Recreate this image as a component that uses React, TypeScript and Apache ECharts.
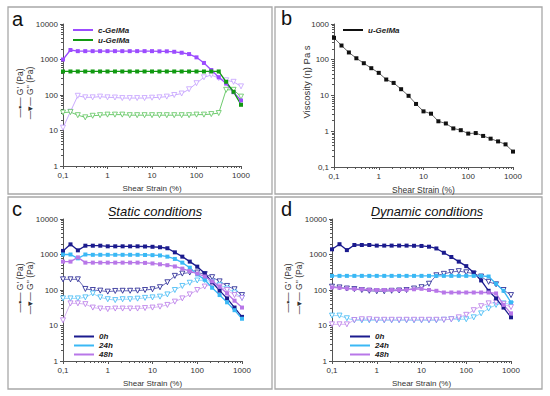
import React, { useEffect, useRef } from 'react';
import * as echarts from 'echarts';

// Shear strain (%) sampled 6 points per decade
const strain = [0.1, 0.147, 0.215, 0.316, 0.464, 0.681, 1, 1.47, 2.15, 3.16, 4.64, 6.81, 10, 14.7, 21.5, 31.6, 46.4, 68.1, 100, 147, 215, 316, 464, 681, 1000];

// Panel a
const aCGelG1 = [1000, 1850, 1720, 1720, 1720, 1720, 1720, 1720, 1720, 1720, 1720, 1720, 1720, 1700, 1700, 1650, 1550, 1420, 1150, 800, 505, 315, 210, 120, 70];
const aCGelG2 = [12, 34, 95, 86, 86, 90, 86, 85, 82, 82, 82, 82, 84, 86, 90, 100, 110, 145, 215, 315, 365, 300, 260, 235, 175];
const aUGelG1 = [460, 460, 460, 460, 460, 460, 460, 460, 460, 460, 460, 460, 460, 460, 460, 460, 460, 460, 460, 460, 460, 460, 236, 123, 53];
const aUGelG2 = [32, 33, 27, 23.5, 26, 27, 28, 28, 28, 27, 27, 27, 27, 27, 27, 27, 27, 27, 28, 28, 29, 31, 140, 140, 90];

// Panel b
const bViscosity = [410, 250, 160, 110, 80, 58, 43, 28, 22.5, 15, 9.8, 5.8, 3.6, 3.1, 1.9, 1.65, 1.2, 1.07, 0.86, 0.89, 0.74, 0.62, 0.52, 0.43, 0.27];

// Panel c (static)
const c0G1 = [1260, 1930, 1310, 1770, 1770, 1770, 1700, 1700, 1700, 1700, 1700, 1680, 1650, 1600, 1500, 1150, 870, 630, 455, 295, 165, 96, 58, 32, 17.5];
const c24G1 = [1000, 1000, 780, 1000, 980, 980, 980, 980, 980, 980, 980, 970, 960, 940, 870, 750, 590, 425, 275, 195, 116, 72, 45, 27, 15.5];
const c48G1 = [630, 630, 830, 590, 590, 590, 590, 590, 590, 590, 590, 580, 560, 530, 500, 460, 400, 340, 290, 240, 175, 124, 80, 50, 32];
const c0G2 = [200, 200, 200, 107, 100, 96, 90, 94, 95, 95, 96, 100, 105, 120, 165, 250, 290, 310, 310, 280, 230, 175, 130, 105, 72];
const c24G2 = [58, 58, 58, 62, 80, 62, 55, 52, 55, 55, 57, 60, 62, 65, 75, 100, 130, 160, 185, 190, 170, 140, 110, 85, 60];
const c48G2 = [14, 42, 42, 40, 32, 30, 29, 30, 30, 30, 30, 31, 32, 34, 38, 47, 58, 75, 100, 125, 145, 125, 100, 72, 60];

// Panel d (dynamic)
const d0G1 = [1400, 1950, 1330, 1850, 1850, 1850, 1780, 1780, 1780, 1780, 1780, 1760, 1740, 1660, 1480, 1120, 850, 630, 470, 310, 186, 95, 58, 32, 17];
const d24G1 = [250, 250, 250, 250, 250, 250, 250, 250, 250, 250, 250, 250, 250, 250, 250, 250, 250, 250, 250, 250, 250, 240, 150, 95, 45];
const d48G1 = [118, 115, 110, 107, 105, 102, 100, 100, 100, 100, 102, 105, 108, 100, 95, 85, 85, 85, 85, 85, 85, 85, 80, 38, 22];
const d0G2 = [124, 118, 110, 106, 100, 95, 92, 92, 95, 97, 100, 110, 120, 150, 260, 285, 320, 340, 315, 290, 240, 170, 145, 100, 72];
const d24G2 = [19, 19, 16, 14, 14, 14, 14, 14, 14, 14, 14, 14, 14, 14, 14, 14.5, 15, 15, 15, 17, 22, 30, 38, 42, 40];
const d48G2 = [10.8, 10.8, 10.8, 14.3, 15, 15, 14.5, 14.5, 14.5, 14.5, 14.5, 14.5, 14.5, 14.5, 14.5, 14.5, 15, 17, 20, 27, 35, 42, 45, 40, 33];

// Tick labels
const decadeTicks = [0.1, 1, 10, 100, 1000, 10000];
const decadeLabels = ['0,1', '1', '10', '100', '1000', '10000'];

const FONT = 'Liberation Sans, Arial, Helvetica, sans-serif';
const PURPLE = '#9c4cff';
const PURPLE_L = '#c4a0ff';
const GREEN = '#119a11';
const GREEN_L = '#5cc45c';
const NAVY = '#1b1b8e';
const SKY = '#3ab8f5';
const ORCHID = '#b877e8';
const AXIS = '#555';

const fmt = (v: number) => {
  const i = decadeTicks.findIndex((t) => Math.abs(Math.log10(t) - Math.log10(v)) < 1e-6);
  return i >= 0 ? decadeLabels[i] : '';
};

const minorLogs = (from: number, to: number) => {
  const out: number[] = [];
  for (let d = from; d < to; d++) for (let m = 2; m <= 9; m++) out.push(d + Math.log10(m));
  return out;
};

const pts = (ys: number[]) => strain.map((x, i) => [x, ys[i]]);

function filled(name: string, ys: number[], idx: number, color: string, lineColor?: string) {
  return {
    name, type: 'line', xAxisIndex: idx, yAxisIndex: idx, data: pts(ys),
    symbol: 'rect', symbolSize: 4, z: 4,
    lineStyle: { color: lineColor || color, width: 1.3 },
    itemStyle: { color },
    emphasis: { disabled: true },
  };
}
function open(name: string, ys: number[], idx: number, color: string, lineColor?: string) {
  return {
    name, type: 'line', xAxisIndex: idx, yAxisIndex: idx, data: pts(ys),
    symbol: 'triangle', symbolRotate: 180, symbolSize: 5, z: 3,
    lineStyle: { color: lineColor || color, width: 0.9 },
    itemStyle: { color: '#fff', borderColor: color, borderWidth: 0.8 },
    emphasis: { disabled: true },
  };
}

function xMain(idx: number) {
  return {
    type: 'log', logBase: 10, min: 0.1, max: 1000, gridIndex: idx, position: 'bottom',
    axisLine: { show: true, onZero: false, lineStyle: { color: AXIS, width: 1 } },
    axisTick: { show: true, length: 3, lineStyle: { color: AXIS } },
    axisLabel: { fontSize: 8, color: '#333', margin: 5, formatter: fmt, fontFamily: FONT },
    splitLine: { show: false },
    name: 'Shear Strain (%)', nameLocation: 'middle', nameGap: 18,
    nameTextStyle: { fontSize: idx === 1 ? 8.5 : 8, color: '#333', fontFamily: FONT },
  };
}
function yMain(idx: number, min: number, max: number) {
  return {
    type: 'log', logBase: 10, min, max, gridIndex: idx, position: 'left',
    axisLine: { show: true, onZero: false, lineStyle: { color: AXIS, width: 1 } },
    axisTick: { show: true, length: 3, lineStyle: { color: AXIS } },
    axisLabel: { fontSize: 8, color: '#333', margin: 5, formatter: fmt, fontFamily: FONT },
    splitLine: { show: false },
  };
}
function xMinor(idx: number) {
  return {
    type: 'value', min: -1, max: 3, gridIndex: idx, position: 'bottom',
    axisLine: { show: false, onZero: false }, axisLabel: { show: false }, splitLine: { show: false },
    axisTick: { show: true, length: 2, lineStyle: { color: AXIS }, customValues: minorLogs(-1, 3) },
  };
}
function yMinor(idx: number, from: number, to: number) {
  return {
    type: 'value', min: from, max: to, gridIndex: idx, position: 'left',
    axisLine: { show: false, onZero: false }, axisLabel: { show: false }, splitLine: { show: false },
    axisTick: { show: true, length: 2, lineStyle: { color: AXIS }, customValues: minorLogs(from, to) },
  };
}

function legend(left: number, top: number, items: { name: string; color: string }[], lh: number) {
  return {
    orient: 'vertical', left, top, icon: 'rect', itemWidth: 20, itemHeight: 2, itemGap: 0,
    selectedMode: false,
    data: items.map((it) => ({ name: it.name, itemStyle: { color: it.color } })),
    textStyle: { fontSize: 8, fontStyle: 'italic', fontWeight: 'bold', color: '#222', fontFamily: FONT, lineHeight: lh },
  };
}

const panelBox = (x: number, y: number, w: number, h: number) => ({
  type: 'rect', silent: true, z: -1,
  shape: { x, y, width: w, height: h },
  style: { fill: 'none', stroke: '#a8a8a8', lineWidth: 1.3 },
});
const letter = (t: string, x: number, y: number) => ({
  type: 'text', x, y,
  style: { text: t, fontSize: 20, fontFamily: FONT, fill: '#111', align: 'left', verticalAlign: 'middle' },
});
const vtext = (t: string, x: number, y: number, size: number) => ({
  type: 'text', x, y, rotation: Math.PI / 2,
  style: { text: t, fontSize: size, fontFamily: FONT, fill: '#333', align: 'center', verticalAlign: 'middle' },
});

export default function App() {
  const ref = useRef<HTMLDivElement>(null);
  useEffect(() => {
    if (!ref.current) return;
    const chart = echarts.init(ref.current, undefined, { renderer: 'svg' });
    chart.setOption({
      animation: false,
      backgroundColor: '#fff',
      textStyle: { fontFamily: FONT },
      grid: [
        { left: 63, top: 24, width: 178, height: 142 },
        { left: 334, top: 24, width: 179, height: 143 },
        { left: 63, top: 219, width: 179, height: 142 },
        { left: 332, top: 219, width: 179, height: 142 },
      ],
      xAxis: [xMain(0), xMain(1), xMain(2), xMain(3), xMinor(0), xMinor(1), xMinor(2), xMinor(3)],
      yAxis: [
        yMain(0, 1, 10000), yMain(1, 0.1, 1000), yMain(2, 1, 10000), yMain(3, 1, 10000),
        yMinor(0, 0, 4), yMinor(1, -1, 3), yMinor(2, 0, 4), yMinor(3, 0, 4),
      ],
      legend: [
        legend(68, 20, [{ name: 'c-GelMa', color: PURPLE }, { name: 'u-GelMa', color: GREEN }], 10),
        legend(338, 20, [{ name: 'u-GelMa ', color: '#111' }], 10),
        legend(69, 327, [{ name: '0h', color: NAVY }, { name: '24h', color: SKY }, { name: '48h', color: ORCHID }], 9),
        legend(345, 327, [{ name: '0h', color: NAVY }, { name: '24h', color: SKY }, { name: '48h', color: ORCHID }], 9),
      ],
      series: [
        open("c-GelMa G''", aCGelG2, 0, PURPLE_L, PURPLE_L),
        open("u-GelMa G''", aUGelG2, 0, GREEN_L, GREEN_L),
        filled('c-GelMa', aCGelG1, 0, PURPLE),
        filled('u-GelMa', aUGelG1, 0, GREEN),
        { ...filled('u-GelMa ', bViscosity, 1, '#111', '#555'), lineStyle: { color: '#666', width: 1 } },
        open("0h G''", c0G2, 2, NAVY, '#5a5ab0'),
        open("24h G''", c24G2, 2, SKY, '#8fd3f7'),
        open("48h G''", c48G2, 2, ORCHID, '#d3abf0'),
        filled('0h', c0G1, 2, NAVY),
        filled('24h', c24G1, 2, SKY),
        filled('48h', c48G1, 2, ORCHID),
        open("0h G''", d0G2, 3, NAVY, '#5a5ab0'),
        open("24h G''", d24G2, 3, SKY, '#8fd3f7'),
        open("48h G''", d48G2, 3, ORCHID, '#d3abf0'),
        filled('0h', d0G1, 3, NAVY),
        filled('24h', d24G1, 3, SKY),
        filled('48h', d48G1, 3, ORCHID),
      ],
      graphic: [
        panelBox(8, 7, 264, 187),
        panelBox(275, 7, 267, 187),
        panelBox(8, 197, 264, 192),
        panelBox(275, 197, 267, 192),
        letter('a', 12, 19),
        letter('b', 281, 18),
        letter('c', 12, 209),
        letter('d', 281, 209),
        vtext("—▪— G' (Pa)", 20, 93, 8.5),
        vtext("—▾— G'' (Pa)", 30, 93, 8.5),
        vtext("—▪— G' (Pa)", 20, 288, 8.5),
        vtext("—▾— G'' (Pa)", 30, 288, 8.5),
        vtext("—▪— G' (Pa)", 288, 288, 8.5),
        vtext("—▾— G'' (Pa)", 299, 288, 8.5),
        vtext('Viscosity (η) Pa s', 306, 82, 9.5),
        {
          type: 'text', x: 155, y: 211,
          style: { text: 'Static conditions', fontSize: 13, fontStyle: 'italic', fontFamily: FONT, fill: '#111', align: 'center', verticalAlign: 'middle' },
        },
        { type: 'line', shape: { x1: 109, y1: 218.5, x2: 201, y2: 218.5 }, style: { stroke: '#111', lineWidth: 0.9 } },
        {
          type: 'text', x: 427, y: 211,
          style: { text: 'Dynamic conditions', fontSize: 13, fontStyle: 'italic', fontFamily: FONT, fill: '#111', align: 'center', verticalAlign: 'middle' },
        },
        { type: 'line', shape: { x1: 372, y1: 218.5, x2: 482, y2: 218.5 }, style: { stroke: '#111', lineWidth: 0.9 } },
      ],
    });
    return () => chart.dispose();
  }, []);
  return <div ref={ref} style={{ position: 'fixed', left: 0, top: 0, width: 550, height: 396 }} />;
}
